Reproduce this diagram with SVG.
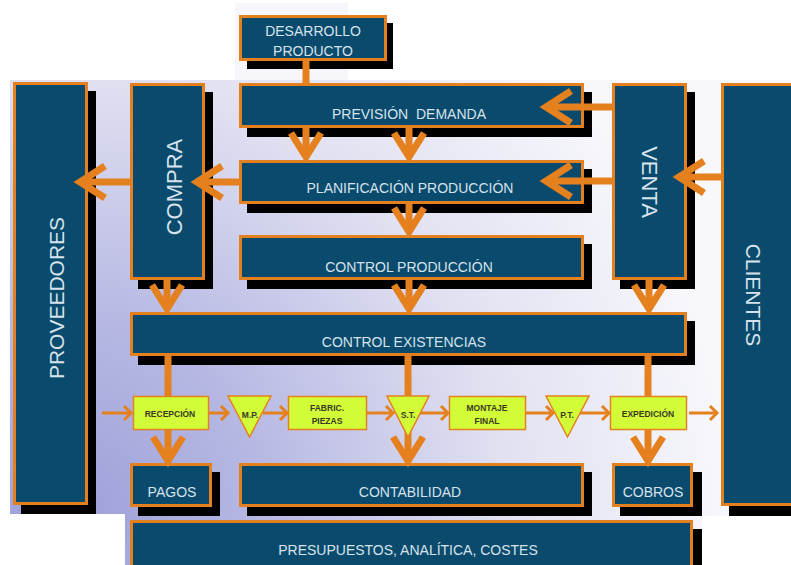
<svg xmlns="http://www.w3.org/2000/svg" width="791" height="565" viewBox="0 0 791 565">
<defs>
<radialGradient id="bg" gradientUnits="userSpaceOnUse" cx="60" cy="520" r="680">
<stop offset="0" stop-color="#9c9fd8"/>
<stop offset="0.3" stop-color="#b6b8e3"/>
<stop offset="0.65" stop-color="#e0e0f1"/>
<stop offset="1" stop-color="#f8f8fc"/>
</radialGradient>
<style>
.sh{fill:#000}
.box{fill:#0a4b6d;stroke:#e5801e;stroke-width:3}
.t{font-family:"Liberation Sans",Arial,sans-serif;font-size:14px;fill:#d6e2ec;text-anchor:middle}
.tv{font-family:"Liberation Sans",Arial,sans-serif;font-size:21px;fill:#d6e2ec;text-anchor:middle}
.flow{fill:#d2fc38;stroke:#e5801e;stroke-width:1.5}
.ft{font-family:"Liberation Sans",Arial,sans-serif;font-size:8.5px;font-weight:bold;fill:#3a3a22;text-anchor:middle}
.thick{fill:none;stroke:#e5801e;stroke-width:7}
.thin{fill:none;stroke:#e5801e;stroke-width:3}
</style>
</defs>
<rect width="791" height="565" fill="#ffffff"/>
<rect x="235" y="3" width="113" height="78" fill="#f7f7fb"/>
<polygon points="10,80 791,80 791,516 702,516 702,565 125,565 125,514 10,514" fill="url(#bg)"/>

<g id="desarrollo">
<rect class="sh" x="247" y="23" width="146" height="46"/>
<rect class="box" x="240.5" y="16.5" width="145" height="43"/>
<text class="t" x="313" y="36">DESARROLLO</text>
<text class="t" x="313" y="56">PRODUCTO</text>
</g>
<g id="prevision">
<rect class="sh" x="247" y="92" width="345" height="45"/>
<rect class="box" x="240.5" y="84.5" width="342" height="42"/>
<text class="t" x="409" y="119" xml:space="preserve">PREVISIÓN  DEMANDA</text>
</g>
<g id="planificacion">
<rect class="sh" x="247" y="169" width="345" height="44"/>
<rect class="box" x="240.5" y="161.5" width="342" height="41"/>
<text class="t" x="410" y="193">PLANIFICACIÓN PRODUCCIÓN</text>
</g>
<g id="control-produccion">
<rect class="sh" x="247" y="244" width="345" height="45"/>
<rect class="box" x="240.5" y="236.5" width="342" height="42"/>
<text class="t" x="409" y="272">CONTROL PRODUCCIÓN</text>
</g>
<g id="control-existencias">
<rect class="sh" x="138" y="321" width="557" height="44"/>
<rect class="box" x="131.5" y="313.5" width="554" height="41"/>
<text class="t" x="404" y="347">CONTROL EXISTENCIAS</text>
</g>
<g id="compra">
<rect class="sh" x="138" y="92" width="75" height="197"/>
<rect class="box" x="131.5" y="84.5" width="72" height="194"/>
<text class="tv" font-size="22" transform="translate(182,187) rotate(-90)" style="font-size:22px">COMPRA</text>
</g>
<g id="proveedores">
<rect class="sh" x="21" y="91" width="75" height="423"/>
<rect class="box" x="14.5" y="83.5" width="72" height="420"/>
<text class="tv" transform="translate(64,298) rotate(-90)">PROVEEDORES</text>
</g>
<g id="venta">
<rect class="sh" x="620" y="92" width="75" height="197"/>
<rect class="box" x="613.5" y="84.5" width="72" height="194"/>
<text class="tv" transform="translate(642,182) rotate(90)" style="font-size:22px">VENTA</text>
</g>
<g id="clientes">
<rect class="sh" x="729" y="92" width="80" height="424"/>
<rect class="box" x="722.5" y="84.5" width="80" height="420"/>
<text class="tv" transform="translate(746,295) rotate(90)">CLIENTES</text>
</g>
<g id="pagos">
<rect class="sh" x="138" y="472" width="82" height="44"/>
<rect class="box" x="131.5" y="464.5" width="79" height="41"/>
<text class="t" x="172" y="497">PAGOS</text>
</g>
<g id="contabilidad">
<rect class="sh" x="247" y="472" width="345" height="44"/>
<rect class="box" x="240.5" y="464.5" width="342" height="41"/>
<text class="t" x="410" y="497">CONTABILIDAD</text>
</g>
<g id="cobros">
<rect class="sh" x="620" y="472" width="82" height="44"/>
<rect class="box" x="613.5" y="464.5" width="78" height="41"/>
<text class="t" x="653" y="497">COBROS</text>
</g>
<g id="presupuestos">
<rect class="sh" x="138" y="529" width="564" height="50"/>
<rect class="box" x="131.5" y="521.5" width="560" height="50"/>
<text class="t" x="408" y="555">PRESUPUESTOS, ANALÍTICA, COSTES</text>
</g>

<g id="connectors">
<line class="thick" x1="306" y1="61" x2="306" y2="83"/>
<line class="thick" x1="306" y1="128" x2="306" y2="156"/>
<polyline class="thick" points="291,133 306,157 321,133"/>
<line class="thick" x1="409" y1="128" x2="409" y2="156"/>
<polyline class="thick" points="394,133 409,157 424,133"/>
<line class="thick" x1="409" y1="204" x2="409" y2="231"/>
<polyline class="thick" points="394,208 409,232 424,208"/>
<line class="thick" x1="409" y1="280" x2="409" y2="308"/>
<polyline class="thick" points="394,285 409,309 424,285"/>
<line class="thick" x1="167" y1="280" x2="167" y2="308"/>
<polyline class="thick" points="152,285 167,309 182,285"/>
<line class="thick" x1="649" y1="280" x2="649" y2="308"/>
<polyline class="thick" points="634,285 649,309 664,285"/>
<line class="thick" x1="612" y1="107" x2="547" y2="107"/>
<polyline class="thick" points="571,91 546,107 571,123"/>
<line class="thick" x1="612" y1="181" x2="547" y2="181"/>
<polyline class="thick" points="571,165 546,181 571,197"/>
<line class="thick" x1="721" y1="177" x2="680" y2="177"/>
<polyline class="thick" points="704,161 679,177 704,193"/>
<line class="thick" x1="239" y1="182" x2="198" y2="182"/>
<polyline class="thick" points="222,166 197,182 222,198"/>
<line class="thick" x1="130" y1="182" x2="81" y2="182"/>
<polyline class="thick" points="105,166 80,182 105,198"/>
<line class="thick" x1="168" y1="356" x2="168" y2="397"/>
<line class="thick" x1="408" y1="356" x2="408" y2="400"/>
<line class="thick" x1="648" y1="356" x2="648" y2="397"/>
<line class="thick" x1="168" y1="430" x2="168" y2="459"/>
<polyline class="thick" points="153,437 168,461 183,437"/>
<line class="thick" x1="408" y1="430" x2="408" y2="459"/>
<polyline class="thick" points="393,437 408,461 423,437"/>
<line class="thick" x1="648" y1="430" x2="648" y2="459"/>
<polyline class="thick" points="633,437 648,461 663,437"/>
<line class="thin" x1="102" y1="413" x2="131" y2="413"/>
<polyline class="thin" points="124,406 131,413 124,420"/>
<line class="thin" x1="209" y1="413" x2="228" y2="413"/>
<polyline class="thin" points="221,406 228,413 221,420"/>
<line class="thin" x1="263" y1="413" x2="287" y2="413"/>
<polyline class="thin" points="280,406 287,413 280,420"/>
<line class="thin" x1="367" y1="413" x2="393" y2="413"/>
<polyline class="thin" points="386,406 393,413 386,420"/>
<line class="thin" x1="420" y1="413" x2="448" y2="413"/>
<polyline class="thin" points="441,406 448,413 441,420"/>
<line class="thin" x1="526" y1="413" x2="553" y2="413"/>
<polyline class="thin" points="546,406 553,413 546,420"/>
<line class="thin" x1="580" y1="413" x2="609" y2="413"/>
<polyline class="thin" points="602,406 609,413 602,420"/>
<line class="thin" x1="689" y1="413" x2="717" y2="413"/>
<polyline class="thin" points="710,406 717,413 710,420"/>
</g>

<g id="recepcion">
<rect class="flow" x="133.5" y="396.5" width="75" height="33"/>
<text class="ft" x="170" y="417">RECEPCIÓN</text>
</g>
<g id="mp">
<polygon class="flow" points="228,396 271,396 249.5,437"/>
<text class="ft" x="250" y="418">M.P.</text>
</g>
<g id="fabric">
<rect class="flow" x="288.5" y="396.5" width="78" height="33"/>
<text class="ft" x="327" y="411">FABRIC.</text>
<text class="ft" x="327" y="424">PIEZAS</text>
</g>
<g id="st">
<polygon class="flow" points="387,396 429,396 408,437"/>
<text class="ft" x="408" y="418">S.T.</text>
</g>
<g id="montaje">
<rect class="flow" x="449.5" y="396.5" width="76" height="33"/>
<text class="ft" x="487" y="411">MONTAJE</text>
<text class="ft" x="487" y="424">FINAL</text>
</g>
<g id="pt">
<polygon class="flow" points="546,396 589,396 567.5,437"/>
<text class="ft" x="567" y="418">P.T.</text>
</g>
<g id="expedicion">
<rect class="flow" x="610.5" y="396.5" width="76" height="33"/>
<text class="ft" x="648" y="417">EXPEDICIÓN</text>
</g>
</svg>
